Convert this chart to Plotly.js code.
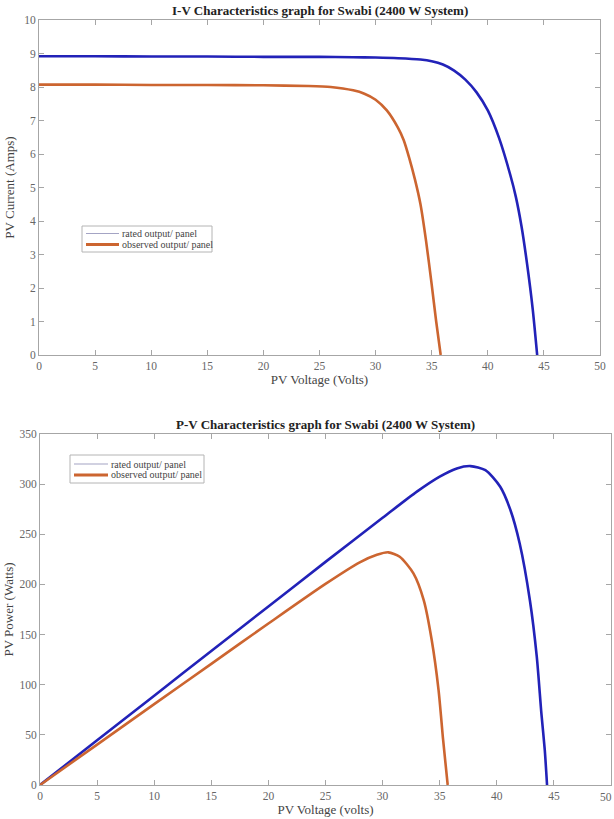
<!DOCTYPE html>
<html>
<head>
<meta charset="utf-8">
<script src="https://cdn.plot.ly/plotly-3.0.1.min.js"></script>
<style>html,body{margin:0;padding:0;background:#fff;}#chart{width:614px;height:819px;}</style>
</head>
<body>
<div id="chart"></div>
<script>
// ---- I-V data ----
const ivVoltageRated = [0, 5, 10, 15, 20, 25, 28, 30, 32, 34, 35, 36, 37, 38, 39, 40, 41, 42, 42.5, 43, 43.5, 44, 44.4];
const ivCurrentRated = [8.92, 8.92, 8.91, 8.91, 8.90, 8.90, 8.89, 8.88, 8.86, 8.82, 8.77, 8.67, 8.49, 8.22, 7.84, 7.30, 6.48, 5.38, 4.72, 3.85, 2.72, 1.38, 0];
const ivVoltageObserved = [0, 5, 10, 15, 20, 24, 26, 28, 29, 30, 31, 32, 32.5, 33, 33.5, 34, 34.5, 35, 35.4, 35.8];
const ivCurrentObserved = [8.07, 8.07, 8.06, 8.06, 8.05, 8.03, 8.00, 7.90, 7.80, 7.62, 7.30, 6.78, 6.42, 5.88, 5.25, 4.50, 3.40, 2.10, 1.00, 0];

// ---- P-V data ----
const pvVoltageRated = [0, 5, 10, 15, 20, 25, 30, 33, 35, 36.5, 37.7, 39, 40.3, 41.2, 42, 42.9, 43.5, 43.9, 44.2, 44.4];
const pvPowerRated = [0, 44.6, 89.1, 133.6, 178, 222.5, 266.4, 292.5, 307.5, 315.7, 318, 314, 297.4, 274, 241, 184, 128, 72, 35, 0];
const pvVoltageObserved = [0, 5, 10, 15, 20, 25, 28, 29.5, 30.5, 31.5, 32.7, 33.6, 34.3, 34.9, 35.3, 35.7];
const pvPowerObserved = [0, 40.3, 80.6, 120.8, 161, 200.5, 222, 229.5, 232, 227.6, 211, 184.4, 144.6, 94.7, 44.9, 0];

// ---- labels ----
const seriesNames = ["rated output/ panel", "observed output/ panel"];
const titleIV = "I-V Characteristics graph for Swabi (2400 W System)";
const titlePV = "P-V Characteristics graph for Swabi (2400 W System)";
const xTitleIV = "PV Voltage (Volts)";
const yTitleIV = "PV Current (Amps)";
const xTitlePV = "PV Voltage (volts)";
const yTitlePV = "PV Power (Watts)";
const xTicks = [0, 5, 10, 15, 20, 25, 30, 35, 40, 45, 50];
const yTicksIV = [0, 1, 2, 3, 4, 5, 6, 7, 8, 9, 10];
const yTicksPV = [0, 50, 100, 150, 200, 250, 300, 350];

const BLUE = '#2222b8';
const ORANGE = '#cc6530';
const LEG_RATED = '#a4a4c4';
const FONT = 'Liberation Serif';
const W = 614, H = 819;

const lineStyle = (c) => ({color: c, width: 2.6, shape: 'spline', smoothing: 0.7});

const traces = [
  {x: ivVoltageRated, y: ivCurrentRated, type: 'scatter', mode: 'lines', name: seriesNames[0], line: lineStyle(BLUE), showlegend: false, xaxis: 'x', yaxis: 'y'},
  {x: ivVoltageObserved, y: ivCurrentObserved, type: 'scatter', mode: 'lines', name: seriesNames[1], line: lineStyle(ORANGE), showlegend: false, xaxis: 'x', yaxis: 'y'},
  {x: pvVoltageRated, y: pvPowerRated, type: 'scatter', mode: 'lines', name: seriesNames[0], line: lineStyle(BLUE), showlegend: false, xaxis: 'x2', yaxis: 'y2'},
  {x: pvVoltageObserved, y: pvPowerObserved, type: 'scatter', mode: 'lines', name: seriesNames[1], line: lineStyle(ORANGE), showlegend: false, xaxis: 'x2', yaxis: 'y2'}
];

function axisBase(extra) {
  return Object.assign({
    showline: true, linecolor: '#a6a6a6', linewidth: 1, mirror: 'ticks',
    ticks: 'inside', ticklen: 5, tickcolor: '#a6a6a6', tickwidth: 1,
    showgrid: false, zeroline: false, automargin: false,
    tickfont: {family: FONT, size: 11.5, color: '#666'},
    fixedrange: true
  }, extra);
}

// custom compact legend (MATLAB style) built from shapes + annotations
function legendBox(x0, y0, x1, y1, rows, lineX0, lineX1, textX) {
  const shapes = [{type: 'rect', xref: 'paper', yref: 'paper', x0: x0 / W, x1: x1 / W, y0: (H - y1) / H, y1: (H - y0) / H,
    line: {color: '#b4b4b4', width: 1}, fillcolor: '#fff', layer: 'above'}];
  const anns = [];
  const styles = [{color: LEG_RATED, width: 1.2}, {color: ORANGE, width: 3}];
  rows.forEach((ry, i) => {
    shapes.push({type: 'line', xref: 'paper', yref: 'paper', x0: lineX0 / W, x1: lineX1 / W, y0: (H - ry) / H, y1: (H - ry) / H,
      line: styles[i], layer: 'above'});
    anns.push({text: seriesNames[i], xref: 'paper', yref: 'paper', x: textX / W, y: (H - ry) / H, xanchor: 'left', yanchor: 'middle',
      showarrow: false, font: {family: FONT, size: 10, color: '#444'}});
  });
  return {shapes, anns};
}
const leg1 = legendBox(82, 226, 212, 252, [233.5, 244.5], 86, 119, 120);
const leg2 = legendBox(70, 455, 204, 483, [464, 475], 74, 108, 109);

const layout = {
  width: W, height: H,
  margin: {l: 0, r: 0, t: 0, b: 0},
  paper_bgcolor: '#fff', plot_bgcolor: '#fff',
  font: {family: FONT, color: '#444'},
  showlegend: false,
  xaxis: axisBase({domain: [39 / W, 600 / W], range: [0, 50], tickvals: xTicks, anchor: 'y',
    title: {text: xTitleIV, font: {family: FONT, size: 13, color: '#444'}, standoff: 2}}),
  yaxis: axisBase({domain: [(H - 355) / H, (H - 20) / H], range: [0, 10], tickvals: yTicksIV, anchor: 'x',
    title: {text: yTitleIV, font: {family: FONT, size: 13, color: '#444'}, standoff: 6}}),
  xaxis2: axisBase({domain: [40 / W, 611 / W], range: [0, 50], tickvals: xTicks.slice(0, -1), anchor: 'y2',
    title: {text: xTitlePV, font: {family: FONT, size: 13, color: '#444'}, standoff: 2}}),
  yaxis2: axisBase({domain: [(H - 785) / H, (H - 434) / H], range: [0, 350], tickvals: yTicksPV, anchor: 'x2',
    title: {text: yTitlePV, font: {family: FONT, size: 13, color: '#444'}, standoff: 2}}),
  shapes: leg1.shapes.concat(leg2.shapes),
  annotations: [
    {text: '<b>' + titleIV + '</b>', xref: 'paper', yref: 'paper', x: 319.5 / W, y: (H - 11) / H,
      xanchor: 'center', yanchor: 'middle', showarrow: false, font: {family: FONT, size: 13, color: '#222'}},
    {text: '<b>' + titlePV + '</b>', xref: 'paper', yref: 'paper', x: 325 / W, y: (H - 425) / H,
      xanchor: 'center', yanchor: 'middle', showarrow: false, font: {family: FONT, size: 13, color: '#222'}},
    // the last x tick label of the lower chart sits at the page edge
    {text: String(xTicks[xTicks.length - 1]), xref: 'paper', yref: 'paper', x: 614 / W, y: (H - 797) / H,
      xanchor: 'right', yanchor: 'middle', showarrow: false, font: {family: FONT, size: 11.5, color: '#666'}}
  ].concat(leg1.anns, leg2.anns)
};

Plotly.newPlot('chart', traces, layout, {staticPlot: true, displayModeBar: false});
</script>
</body>
</html>
